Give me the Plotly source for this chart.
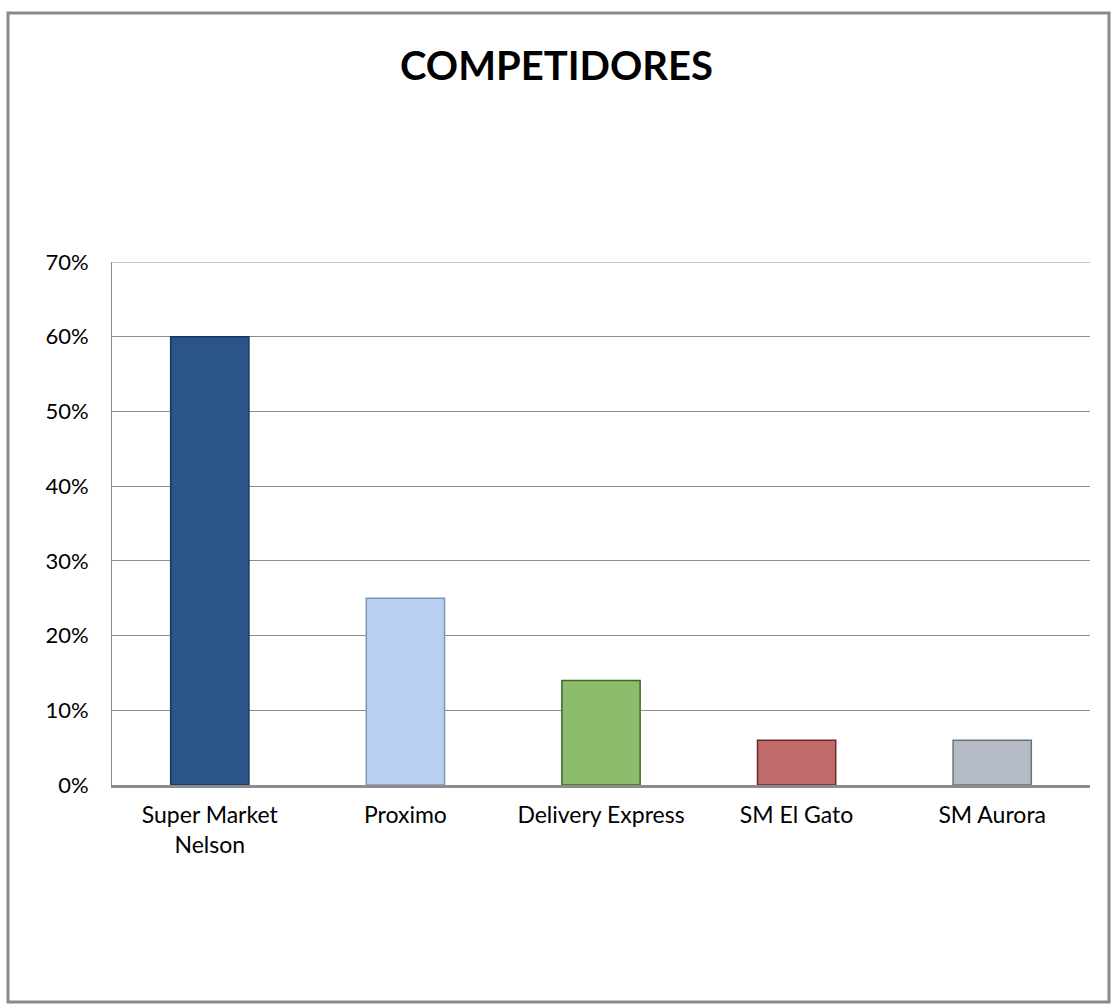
import plotly.graph_objects as go

categories = ["Super Market<br>Nelson", "Proximo", "Delivery Express", "SM El Gato", "SM Aurora"]
values = [0.60, 0.25, 0.14, 0.06, 0.06]
bar_colors = ["#2b5488", "#b9cff2", "#8dbd6c", "#c06a6a", "#b5bbc6"]
line_colors = ["#1a3560", "#7f93b4", "#3d6a2a", "#6a2a2a", "#6a707c"]
tick_vals = [0, 0.1, 0.2, 0.3, 0.4, 0.5, 0.6, 0.7]
tick_text = ["0%", "10%", "20%", "30%", "40%", "50%", "60%", "70%"]

W, H = 1113, 1007
L, R, T, B = 112, 23, 262, 222

fig = go.Figure()
fig.add_trace(go.Bar(
    x=categories, y=values,
    marker=dict(color=bar_colors, line=dict(color=line_colors, width=1.5)),
    width=0.4,
    hoverinfo="x+y",
))

def px_x(p):
    return (p - L) / (W - L - R)

def px_y(p):
    return (H - B - p) / (H - T - B)

fig.update_layout(
    width=W, height=H,
    margin=dict(l=L, r=R, t=T, b=B),
    paper_bgcolor="white", plot_bgcolor="white",
    font=dict(family="Lato, Open Sans, sans-serif", size=23, color="black"),
    title=dict(text="<b>COMPETIDORES</b>", x=0.5, xanchor="center",
               y=1 - 66 / H, yanchor="middle",
               font=dict(size=40, family="Lato, Open Sans, sans-serif", color="black")),
    showlegend=False,
    xaxis=dict(showgrid=False, showline=True, linecolor="#8c8c8c", linewidth=2.5,
               ticks="", tickfont=dict(size=23), ticklabelstandoff=8),
    yaxis=dict(range=[0, tick_vals[-1]], tickvals=tick_vals, ticktext=tick_text,
               showgrid=True, gridcolor="#8c8c8c", gridwidth=1,
               showline=True, linecolor="#8c8c8c", linewidth=1,
               zeroline=False, ticks="", tickfont=dict(size=22),
               ticklabelstandoff=18),
    shapes=[
        dict(type="line", xref="paper", yref="y", x0=0, x1=1,
             y0=tick_vals[-1], y1=tick_vals[-1],
             line=dict(color="#8c8c8c", width=1), layer="below"),
        dict(type="rect", xref="paper", yref="paper",
             x0=px_x(8), x1=px_x(1109), y0=px_y(1002), y1=px_y(13),
             line=dict(color="#8a8a8a", width=3), fillcolor="rgba(0,0,0,0)",
             layer="below"),
    ],
)

fig.write_html("out.html")
